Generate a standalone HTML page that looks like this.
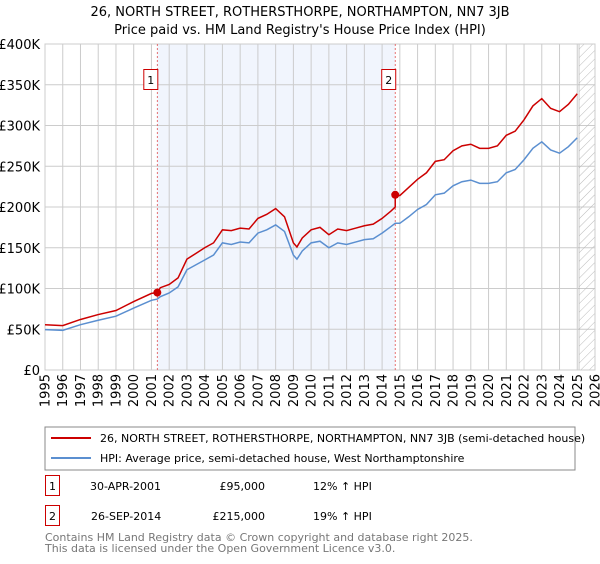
<!DOCTYPE html>
<html><head><meta charset="utf-8"><style>
body{margin:0;background:#fff;font-family:"DejaVu Sans","Liberation Sans",sans-serif;}
svg text{font-family:"DejaVu Sans","Liberation Sans",sans-serif;}
</style></head><body>
<svg id="c" width="600" height="560" xmlns="http://www.w3.org/2000/svg">
<defs><pattern id="hatch" width="6" height="6" patternUnits="userSpaceOnUse" patternTransform="rotate(45)"><line x1="0" y1="0" x2="0" y2="6" stroke="#bbb" stroke-width="1"/></pattern></defs>
<text x="300" y="16" text-anchor="middle" font-size="13" fill="#000">26, NORTH STREET, ROTHERSTHORPE, NORTHAMPTON, NN7 3JB</text>
<text x="300" y="34" text-anchor="middle" font-size="13" fill="#000">Price paid vs. HM Land Registry's House Price Index (HPI)</text>
<g id="plot"></g>
<rect x="45" y="427" width="530" height="43" fill="#fff" stroke="#888"/>
<line x1="51" y1="438" x2="91" y2="438" stroke="#cc0000" stroke-width="2"/>
<text x="100" y="442" font-size="11">26, NORTH STREET, ROTHERSTHORPE, NORTHAMPTON, NN7 3JB (semi-detached house)</text>
<line x1="51" y1="458" x2="91" y2="458" stroke="#5b8fd0" stroke-width="2"/>
<text x="100" y="462" font-size="11">HPI: Average price, semi-detached house, West Northamptonshire</text>
<g>
<rect x="45.5" y="475.5" width="14" height="20" fill="none" stroke="#cc0000"/>
<text x="52.5" y="490" text-anchor="middle" font-size="11">1</text>
<text x="90" y="490" font-size="11">30-APR-2001</text>
<text x="265" y="490" text-anchor="end" font-size="11">£95,000</text>
<text x="313" y="490" font-size="11">12% ↑ HPI</text></g>
<g>
<rect x="45.5" y="505.5" width="14" height="20" fill="none" stroke="#cc0000"/>
<text x="52.5" y="520" text-anchor="middle" font-size="11">2</text>
<text x="91" y="520" font-size="11">26-SEP-2014</text>
<text x="265" y="520" text-anchor="end" font-size="11">£215,000</text>
<text x="313" y="520" font-size="11">19% ↑ HPI</text></g>
<text x="45" y="541" font-size="11" fill="#777">Contains HM Land Registry data © Crown copyright and database right 2025.</text>
<text x="45" y="552" font-size="11" fill="#777">This data is licensed under the Open Government Licence v3.0.</text>
</svg>
<script>
const yearTicks=[1995,1996,1997,1998,1999,2000,2001,2002,2003,2004,2005,2006,2007,2008,2009,2010,2011,2012,2013,2014,2015,2016,2017,2018,2019,2020,2021,2022,2023,2024,2025,2026];
const valueTicks=[0,50000,100000,150000,200000,250000,300000,350000,400000];
const valueTickLabels=["£0","£50K","£100K","£150K","£200K","£250K","£300K","£350K","£400K"];
const times=[1995,1996,1997,1998,1999,2000,2001,2001.33,2001.5,2002,2002.5,2003,2003.5,2004,2004.5,2005,2005.5,2006,2006.5,2007,2007.5,2008,2008.5,2009,2009.2,2009.5,2010,2010.5,2011,2011.5,2012,2012.5,2013,2013.5,2014,2014.5,2014.74,2015,2015.5,2016,2016.5,2017,2017.5,2018,2018.5,2019,2019.5,2020,2020.5,2021,2021.5,2022,2022.5,2023,2023.5,2024,2024.5,2025];
const hpiValues=[49500,48700,55600,61000,66000,76000,85500,87000,90000,94500,102000,123000,129000,135000,141000,156000,154000,157000,156000,168000,172000,178000,170000,141000,136000,146000,156000,158000,150000,156000,154000,157000,160000,161000,168000,176000,180000,180000,188000,197000,203000,215000,217000,226000,231000,233000,229000,229000,231000,242000,246000,258000,272000,280000,270000,266000,274000,285000];
const priceTimes=[1995,1996,1997,1998,1999,2000,2001,2001.33,2001.5,2002,2002.5,2003,2003.5,2004,2004.5,2005,2005.5,2006,2006.5,2007,2007.5,2008,2008.5,2009,2009.2,2009.5,2010,2010.5,2011,2011.5,2012,2012.5,2013,2013.5,2014,2014.5,2014.74,2014.74,2015,2015.5,2016,2016.5,2017,2017.5,2018,2018.5,2019,2019.5,2020,2020.5,2021,2021.5,2022,2022.5,2023,2023.5,2024,2024.5,2025];
const priceValues=[55500,54500,62000,68000,73000,84000,94000,95000,101000,105000,113000,136000,143000,150000,156000,172000,171000,174000,173000,186000,191000,198000,188000,156000,151000,162000,172000,175000,166000,173000,171000,174000,177000,179000,186000,195000,200000,215000,214000,224000,234000,242000,256000,258000,269000,275000,277000,272000,272000,275000,288000,293000,307000,324000,333000,321000,317000,326000,339000];
const saleTimes=[2001.33,2014.74];
const saleValues=[95000,215000];
const saleLabels=["1","2"];
const hatchStart=2025.1;

const X0=45,X1=595,Y0=370,Y1=44;
const xs=t=>X0+(t-1995)/(2026-1995)*(X1-X0);
const ys=v=>Y0-(v/400000)*(Y0-Y1);
const NS="http://www.w3.org/2000/svg";
const g=document.getElementById('plot');
function mk(tag,attrs){const e=document.createElementNS(NS,tag);for(const k in attrs)e.setAttribute(k,attrs[k]);g.appendChild(e);return e;}
let e;
e=mk('rect',{x:X0,y:Y1,width:X1-X0,height:Y0-Y1,fill:'#fff'});


e=mk('rect',{x:xs(saleTimes[0]),y:Y1,width:xs(saleTimes[1])-xs(saleTimes[0]),height:Y0-Y1,fill:'#eef3fc',opacity:0.8});


yearTicks.forEach(t=>{
 e=mk('line',{x1:xs(t),x2:xs(t),y1:Y1,y2:Y0,stroke:'#ccc','stroke-width':1});
 
 
 e=mk('text',{x:0,y:0,'font-size':13,'text-anchor':'end',transform:`translate(${xs(t)+4.5},374) rotate(-90)`});
 e.textContent=t;
 
 
});
valueTicks.forEach((v,i)=>{
 e=mk('line',{x1:X0,x2:X1,y1:ys(v),y2:ys(v),stroke:'#ccc','stroke-width':1});
 
 
 e=mk('text',{x:40,y:ys(v)+5,'font-size':13,'text-anchor':'end'});
 e.textContent=valueTickLabels[i];
 
 
});
e=mk('rect',{x:xs(hatchStart),y:Y1,width:X1-xs(hatchStart),height:Y0-Y1,fill:'url(#hatch)',stroke:'#999','stroke-width':0.5});


e=mk('rect',{x:X0,y:Y1,width:X1-X0,height:Y0-Y1,fill:'none',stroke:'#ccc'});


saleTimes.forEach((t,i)=>{
 e=mk('line',{x1:xs(t),x2:xs(t),y1:Y1,y2:Y0,stroke:'#e05050','stroke-width':0.8,'stroke-dasharray':'2,2'});
 
 
 e=mk('rect',{x:xs(t)-13.5,y:69.5,width:14,height:20,fill:'#fff',stroke:'#cc0000'});
 
 
 e=mk('text',{x:xs(t)-6.5,y:84,'font-size':11,'text-anchor':'middle'});
 e.textContent=saleLabels[i];
 
 
});
e=mk('polyline',{points:times.map((t,i)=>xs(t)+','+ys(hpiValues[i])).join(' '),fill:'none',stroke:'#5b8fd0','stroke-width':1.5});


e=mk('polyline',{points:priceTimes.map((t,i)=>xs(t)+','+ys(priceValues[i])).join(' '),fill:'none',stroke:'#cc0000','stroke-width':1.5});


saleTimes.forEach((t,i)=>{
 e=mk('circle',{cx:xs(t),cy:ys(saleValues[i]),r:4,fill:'#cc0000'});
 
 
});
</script>
</body></html>
